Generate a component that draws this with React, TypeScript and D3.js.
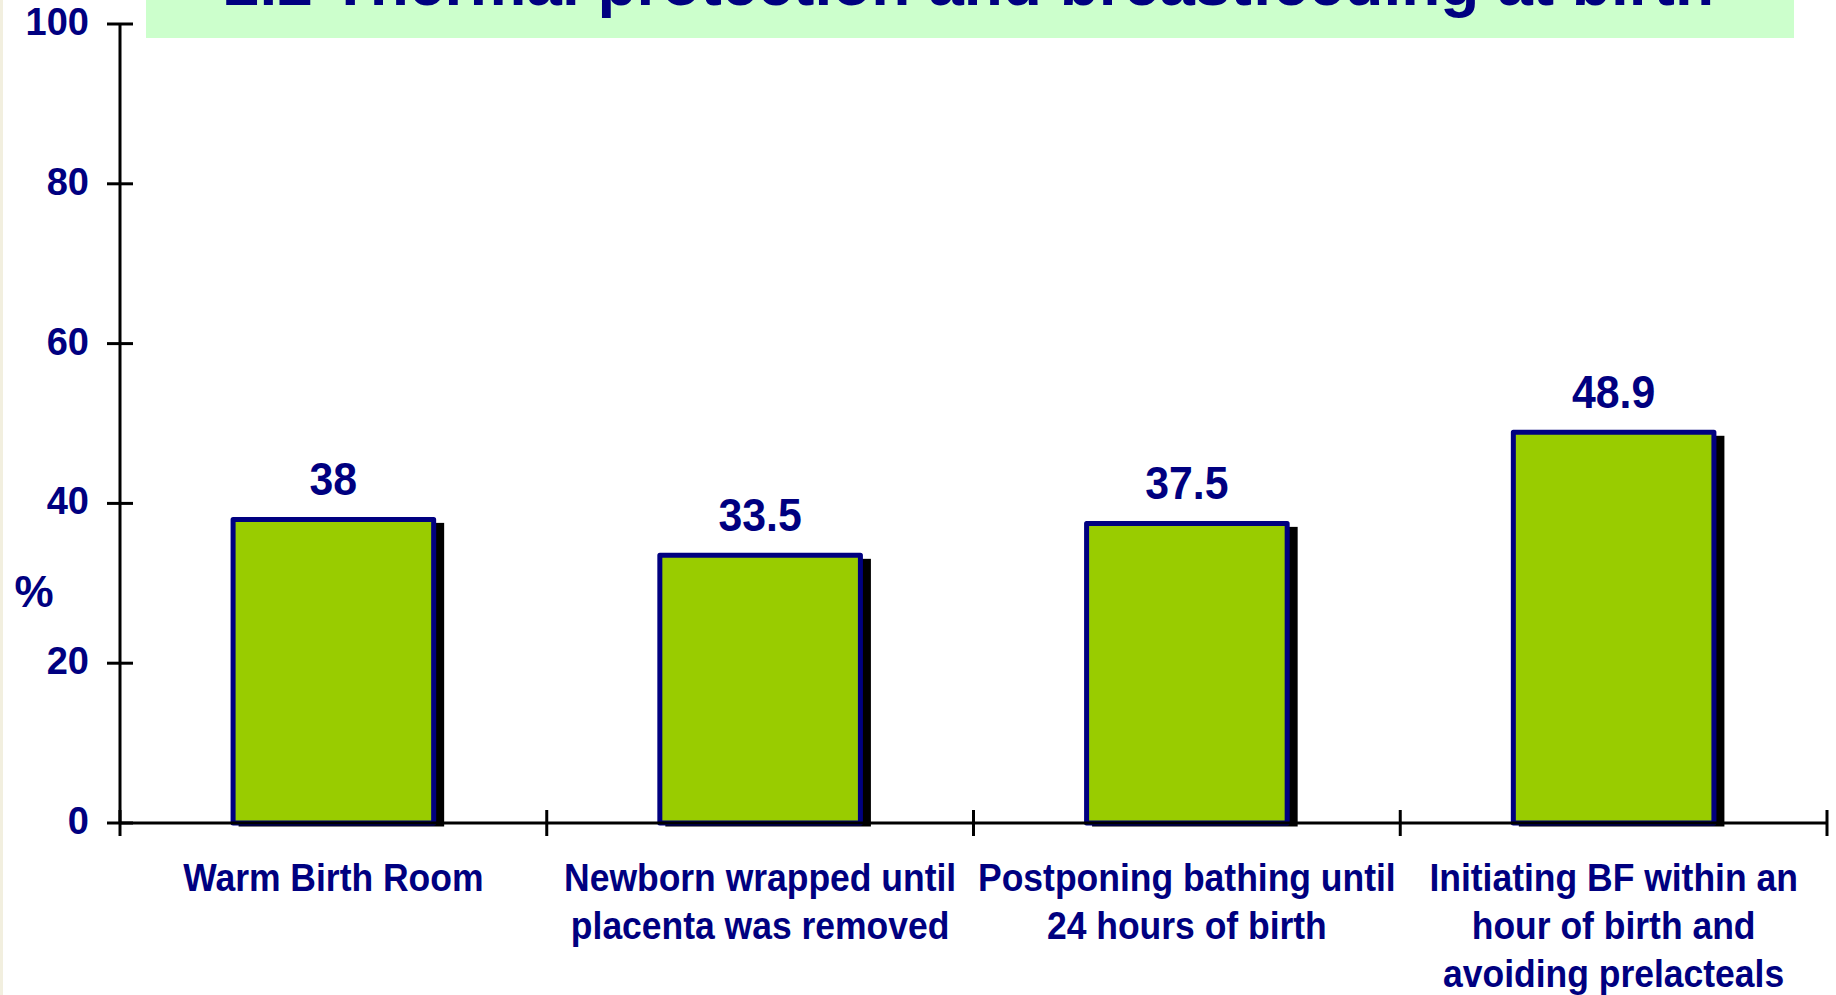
import React from 'react';
import * as d3 from 'd3';

// chart values
const categories: string[][] = [
  ['Warm Birth Room'],
  ['Newborn wrapped until', 'placenta was removed'],
  ['Postponing bathing until', '24 hours of birth'],
  ['Initiating BF within an', 'hour of birth and', 'avoiding prelacteals'],
];
const values: number[] = [38, 33.5, 37.5, 48.9];
const valueLabels: string[] = ['38', '33.5', '37.5', '48.9'];
const yTicks: number[] = [0, 20, 40, 60, 80, 100];
const title = '2.2 Thermal protection and breastfeeding at birth';

const W = 1836;
const H = 995;
const NAVY = '#000080';
const FONT = '"Liberation Sans", Arial, sans-serif';

export default function App() {
  const left = 120;
  const right = 1827;
  const top = 24;
  const bottom = 823;

  const x = d3
    .scaleBand<number>()
    .domain(d3.range(categories.length))
    .range([left, right])
    .paddingInner(0.53)
    .paddingOuter(0.265);
  const step = x.step();

  const y = d3.scaleLinear().domain([0, 100]).range([bottom, top]);

  // category boundaries for the crossing ticks on the x axis
  const xTickPos = d3.range(categories.length + 1).map((i) => left + i * step);

  const bw = x.bandwidth();
  const sw = 5;

  return (
    <div style={{ position: 'fixed', left: 0, top: 0 }}>
      <svg width={W} height={H} style={{ display: 'block', background: '#fff' }}>
        <rect x={0} y={0} width={3} height={H} fill="#F2EFDF" />

        {/* title banner, cut off at the top edge */}
        <rect x={146} y={0} width={1648} height={38} fill="#CCFFCC" />
        <text
          x={969}
          y={5}
          textAnchor="middle"
          fontFamily={FONT}
          fontWeight="bold"
          fontSize={64}
          fill={NAVY}
        >
          {title}
        </text>

        {/* bars with drop shadow */}
        {values.map((v, i) => {
          const bx = x(i)!;
          const by = y(v);
          return (
            <g key={i}>
              <rect
                x={bx - sw / 2 + 8}
                y={by - sw / 2 + 6}
                width={bw + sw}
                height={bottom - by}
                fill="#000"
              />
              <rect
                x={bx}
                y={by}
                width={bw}
                height={bottom - by}
                fill="#99CC00"
                stroke={NAVY}
                strokeWidth={sw}
                strokeLinejoin="round"
              />
            </g>
          );
        })}

        {/* y axis */}
        <line x1={left} x2={left} y1={top} y2={bottom} stroke="#000" strokeWidth={3} />
        {yTicks.map((t) => (
          <g key={t}>
            <line x1={left - 13} x2={left + 13} y1={y(t)} y2={y(t)} stroke="#000" strokeWidth={3} />
            <text
              x={89}
              y={y(t) + 11}
              textAnchor="end"
              fontFamily={FONT}
              fontWeight="bold"
              fontSize={38}
              fill={NAVY}
            >
              {t}
            </text>
          </g>
        ))}
        <text x={34} y={607} textAnchor="middle" fontFamily={FONT} fontWeight="bold" fontSize={44} fill={NAVY}>
          %
        </text>

        {/* x axis */}
        <line x1={left} x2={right} y1={bottom} y2={bottom} stroke="#000" strokeWidth={3} />
        {xTickPos.map((p, i) => (
          <line key={i} x1={p} x2={p} y1={bottom - 13} y2={bottom + 13} stroke="#000" strokeWidth={3} />
        ))}

        {/* value labels */}
        {values.map((v, i) => {
          const cx = x(i)! + bw / 2;
          return (
            <text
              key={i}
              transform={`translate(${cx},${y(v) - 24}) scale(0.91,1)`}
              textAnchor="middle"
              fontFamily={FONT}
              fontWeight="bold"
              fontSize={47}
              fill={NAVY}
            >
              {valueLabels[i]}
            </text>
          );
        })}

        {/* category labels */}
        {categories.map((lines, i) => {
          const cx = x(i)! + bw / 2;
          return lines.map((ln, j) => (
            <text
              key={`${i}-${j}`}
              transform={`translate(${cx},${891 + j * 48}) scale(0.91,1)`}
              textAnchor="middle"
              fontFamily={FONT}
              fontWeight="bold"
              fontSize={39}
              fill={NAVY}
            >
              {ln}
            </text>
          ));
        })}
      </svg>
    </div>
  );
}
